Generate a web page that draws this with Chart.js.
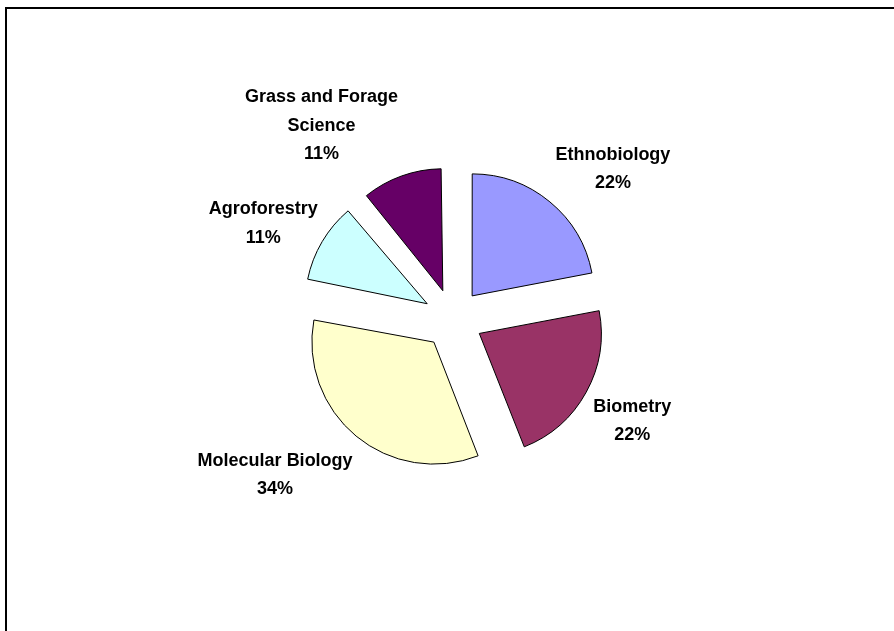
<!DOCTYPE html>
<html>
<head>
<meta charset="utf-8">
<script src="https://cdn.jsdelivr.net/npm/chart.js@4"></script>
<style>
  html, body { margin: 0; padding: 0; background: #fff; }
  #wrap { width: 894px; height: 631px; position: relative; }
</style>
</head>
<body>
<div id="wrap"><canvas id="c" width="894" height="631"></canvas></div>
<script>
// ---- data ----
const categories = ['Ethnobiology', 'Biometry', 'Molecular Biology', 'Agroforestry', 'Grass and Forage Science'];
const values = [22, 22, 34, 11, 11];
const labelLines = [
  ['Ethnobiology'],
  ['Biometry'],
  ['Molecular Biology'],
  ['Agroforestry'],
  ['Grass and Forage', 'Science']
];

// ---- style ----
const colors = ['#9999FF', '#993366', '#FFFFCC', '#CCFFFF', '#660066'];
const labelNudge = [[63, -35], [46, 27], [-81, 37], [-59, -20], [-80, -52]];

// Chart.js v4 translates an arc by offset/4 and also grows the radius of
// narrow slices; undo that growth so every slice keeps the same radius.
const equalRadiusPlugin = {
  id: 'equalRadius',
  afterDatasetUpdate(chart, args) {
    const meta = args.meta;
    const R = meta.controller.outerRadius;
    meta.data.forEach(arc => {
      const off = (arc.options && arc.options.offset || 0) / 4;
      const circ = arc.endAngle - arc.startAngle;
      const fix = 1 - Math.sin(Math.min(Math.PI, circ || 0));
      arc.outerRadius = R - off * fix;
    });
  }
};

const framePlugin = {
  id: 'frame',
  afterDraw(chart) {
    const ctx = chart.ctx;
    ctx.save();
    ctx.fillStyle = '#000';
    ctx.fillRect(5, 7, chart.width - 5, 2);
    ctx.fillRect(5, 7, 2, chart.height - 7);
    ctx.restore();
  }
};

const labelPlugin = {
  id: 'sliceLabels',
  afterDatasetsDraw(chart) {
    const ctx = chart.ctx;
    const meta = chart.getDatasetMeta(0);
    const ds = chart.data.datasets[0];
    const total = ds.data.reduce((a, b) => a + b, 0);
    const R = meta.controller.outerRadius;
    ctx.save();
    ctx.font = 'bold 18px "Liberation Sans", Arial, sans-serif';
    ctx.fillStyle = '#000';
    ctx.textAlign = 'center';
    ctx.textBaseline = 'alphabetic';
    const lh = 28.5;
    meta.data.forEach((arc, i) => {
      const mid = (arc.startAngle + arc.endAngle) / 2;
      const off = (arc.options.offset || 0) / 4;
      const r = R + off;
      const cx = arc.x + Math.cos(mid) * r + labelNudge[i][0];
      const cy = arc.y + Math.sin(mid) * r + labelNudge[i][1];
      const pct = Math.round(ds.data[i] / total * 100) + '%';
      const lines = labelLines[i].concat([pct]);
      const n = lines.length;
      lines.forEach((t, k) => {
        const ly = cy + (k - (n - 1) / 2) * lh + 7;
        ctx.fillText(t, cx, ly);
      });
    });
    ctx.restore();
  }
};

new Chart(document.getElementById('c'), {
  type: 'pie',
  data: {
    labels: categories,
    datasets: [{
      data: values,
      backgroundColor: colors,
      borderColor: '#000',
      borderWidth: 1,
      hoverBorderWidth: 1,
      borderJoinStyle: 'miter',
      offset: 120,
      hoverOffset: 120
    }]
  },
  options: {
    responsive: false,
    animation: false,
    events: [],
    layout: { padding: { left: 253, right: 241, top: 136.5, bottom: 129.5 } },
    plugins: {
      legend: { display: false },
      tooltip: { enabled: false },
      title: { display: false }
    }
  },
  plugins: [equalRadiusPlugin, framePlugin, labelPlugin]
});
</script>
</body>
</html>
